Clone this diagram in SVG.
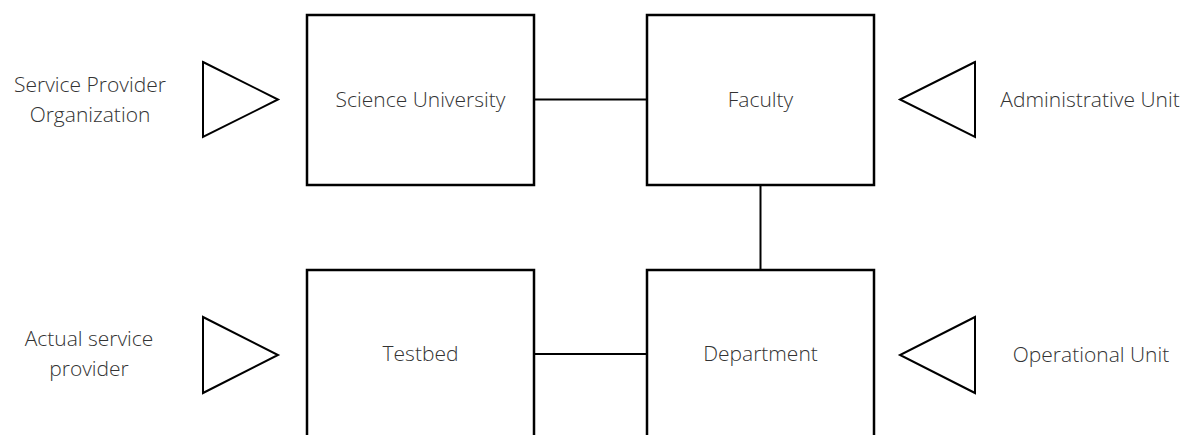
<svg xmlns="http://www.w3.org/2000/svg" width="1190" height="435" viewBox="0 0 1190 435">
<style>
.box{fill:#fff;stroke:#000;stroke-width:2.5}
.tri{fill:#fff;stroke:#000;stroke-width:2;stroke-linejoin:miter}
.con{fill:none;stroke:#000;stroke-width:2}
text{font-family:"Open Sans","Noto Sans","Liberation Sans",sans-serif;font-size:21px;font-weight:300;fill:#333;text-anchor:middle}
</style>
<rect width="1190" height="435" fill="#fff"/>
<g id="connectors">
<line class="con" x1="534" y1="99.5" x2="647" y2="99.5"/>
<line class="con" x1="760.5" y1="185" x2="760.5" y2="270"/>
<line class="con" x1="534" y1="354" x2="647" y2="354"/>
</g>
<g id="science-university">
<rect class="box" x="307" y="15" width="227" height="170"/>
<text x="420.5" y="107">Science University</text>
</g>
<g id="faculty">
<rect class="box" x="647" y="15" width="227" height="170"/>
<text x="760.5" y="107">Faculty</text>
</g>
<g id="testbed">
<rect class="box" x="307" y="270" width="227" height="180"/>
<text x="420.5" y="361">Testbed</text>
</g>
<g id="department">
<rect class="box" x="647" y="270" width="227" height="180"/>
<text x="760.5" y="361">Department</text>
</g>
<g id="service-provider-organization">
<polygon class="tri" points="203,62 278,99.5 203,137"/>
<text x="90" y="92">Service Provider</text>
<text x="90" y="122">Organization</text>
</g>
<g id="actual-service-provider">
<polygon class="tri" points="203,317 278,355 203,393"/>
<text x="89" y="346">Actual service</text>
<text x="89" y="376">provider</text>
</g>
<g id="administrative-unit">
<polygon class="tri" points="975,62 900,99.5 975,137"/>
<text x="1090" y="107">Administrative Unit</text>
</g>
<g id="operational-unit">
<polygon class="tri" points="975,317 900,355 975,393"/>
<text x="1091" y="362">Operational Unit</text>
</g>
</svg>
